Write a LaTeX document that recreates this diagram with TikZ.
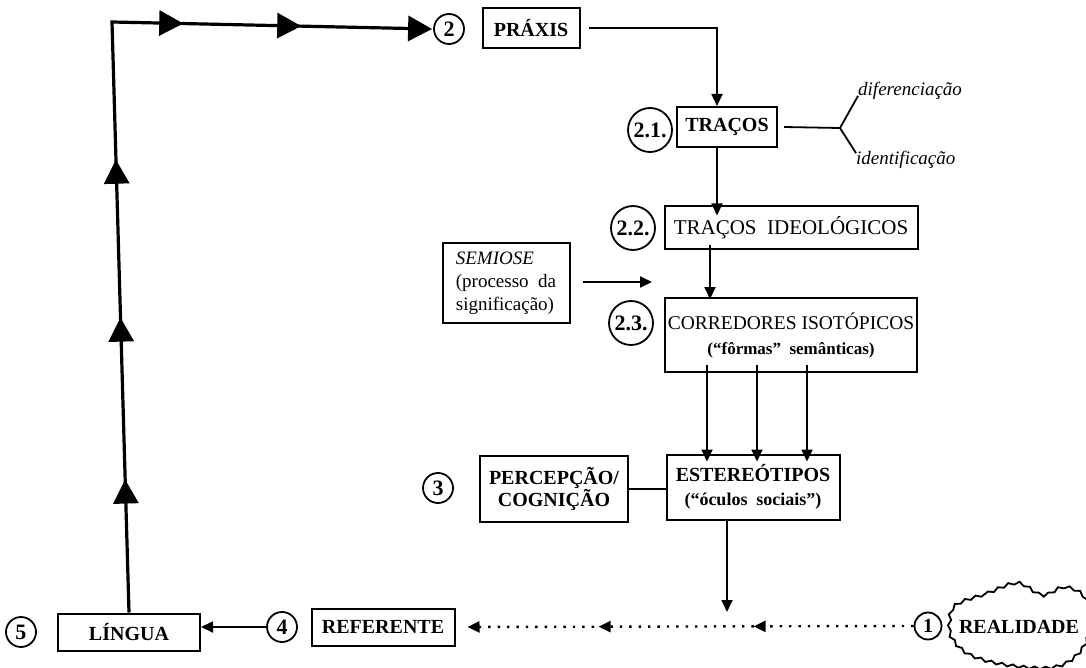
\documentclass[tikz,border=0pt]{standalone}
\usepackage{fontspec}
\setmainfont{Liberation Serif}
\usetikzlibrary{arrows.meta,decorations.markings,decorations.pathmorphing,calc}
\tikzset{bigtip/.tip={Triangle[length=24pt,width=25pt]},
  smalltip/.tip={Triangle[length=12pt,width=11pt]}}
\begin{document}
\begin{tikzpicture}[x=1pt,y=-1pt,
  box/.style={draw,line width=2pt,inner sep=0pt,align=center,font=\fontsize{20}{24}\selectfont\bfseries},
  num/.style={draw,circle,line width=1.8pt,inner sep=0pt,minimum size=30pt,font=\fontsize{22}{24}\selectfont\bfseries},
  numw/.style={num,minimum size=44pt,font=\fontsize{22}{24}\selectfont\bfseries},
  conn/.style={line width=1.8pt},
  arr/.style={conn,-smalltip},
  lbl/.style={font=\fontsize{19}{22}\selectfont\itshape,inner sep=0pt}
]
\useasboundingbox (0,0) rectangle (1086,668);

% boxes
\node[box,minimum width=97pt,minimum height=40pt] (praxis) at (531,28) {PRÁXIS};
\node[box,minimum width=100pt,minimum height=40pt] (tracos) at (727,127) {TRAÇOS};
\node[box,minimum width=253pt,minimum height=43pt,font=\fontsize{21}{24}\selectfont] (ideo) at (791,228) {TRAÇOS\ \ IDEOLÓGICOS};
\node[box,minimum width=127pt,minimum height=80pt,align=left,font=\fontsize{19}{23}\selectfont] (semiose) at (506,283)
  {\textit{SEMIOSE}\\(processo\ \ da\\significação)};
\node[box,minimum width=252pt,minimum height=74pt,font=\fontsize{19.5}{24}\selectfont] (corr) at (791,335)
  {CORREDORES ISOTÓPICOS\\[1pt]{\fontsize{17}{20}\selectfont\bfseries (“fôrmas”\ \ semânticas)}};
\node[box,minimum width=173pt,minimum height=65pt] (ester) at (753,487)
  {ESTEREÓTIPOS\\{\fontsize{18}{21}\selectfont (“óculos\ \ sociais”)}};
\node[box,minimum width=148pt,minimum height=66pt,font=\fontsize{20}{22}\selectfont\bfseries] (perc) at (554,489)
  {PERCEPÇÃO/\\COGNIÇÃO};
\node[box,minimum width=143pt,minimum height=37pt] (ref) at (383,627) {REFERENTE};
\node[box,minimum width=142pt,minimum height=37pt] (lingua) at (129,632) {LÍNGUA};
\node[font=\fontsize{20}{24}\selectfont\bfseries,inner sep=0pt] (real) at (1019,627) {REALIDADE};

% numbered circles
\node[num] (c2) at (449,29) {2};
\node[numw] (c21) at (650,130) {2.1.};
\node[numw] (c22) at (633,228) {2.2.};
\node[numw] (c23) at (631,323) {2.3.};
\node[num] (c3) at (438,488) {3};
\node[num] (c4) at (282,627) {4};
\node[num] (c5) at (21,632) {5};
\node[num,minimum size=27pt,font=\fontsize{20}{22}\selectfont\bfseries] (c1) at (928,626) {1};

% cloud around REALIDADE
\draw[line width=1.8pt,decorate,decoration={snake,amplitude=1.4pt,segment length=11pt}]
  plot[smooth cycle,tension=0.6] coordinates {(953,606) (985,594) (1015,584) (1040,596) (1062,588) (1082,598)
   (1088,625) (1078,652) (1052,668) (1005,666) (968,656) (950,640) (947,624)};

% italic labels
\node[lbl,anchor=west] (dif) at (858,91) {diferenciação};
\node[lbl,anchor=west] (idt) at (856,160) {identificação};

% big left path
\coordinate (corner) at (112,22);
\draw[line width=3.2pt,-bigtip,postaction={decorate},
  decoration={markings,
    mark=at position 133pt with {\arrow{bigtip}},
    mark=at position 295pt with {\arrow{bigtip}},
    mark=at position 453pt with {\arrow{bigtip}},
    mark=at position 662pt with {\arrow{bigtip}},
    mark=at position 780pt with {\arrow{bigtip}}}]
  (lingua.north) -- (corner) -- ([xshift=-1pt]c2.west);

% connectors
\draw[arr] ([xshift=8pt]praxis.east) -| ([xshift=-10pt]tracos.north);
\draw[arr] ([xshift=-10pt]tracos.south) -- ([xshift=-74pt,yshift=-10pt]ideo.north);
\draw[arr] ([xshift=-81pt,yshift=5pt]ideo.south) -- ([xshift=-81pt,yshift=-2pt]corr.north);
\coordinate (semend) at (652,282);
\draw[arr] ([xshift=12pt]semiose.east |- semend) -- (semend);
\draw[arr] ([xshift=-84pt,yshift=8pt]corr.south) -- ([xshift=-46pt,yshift=-8pt]ester.north);
\draw[arr] ([xshift=-34pt,yshift=8pt]corr.south) -- ([xshift=4pt,yshift=-8pt]ester.north);
\draw[arr] ([xshift=16pt,yshift=8pt]corr.south) -- ([xshift=54pt,yshift=-8pt]ester.north);
\draw[conn] (perc.east) -- (perc.east -| ester.west);
\coordinate (estend) at (727,612);
\draw[arr] (ester.south -| estend) -- (estend);
\draw[arr] (c4.west) -- (c4.west -| lingua.east);

% traços branches
\coordinate (fork) at (840,128);
\draw[conn] ([xshift=6pt]tracos.east) -- (fork);
\draw[conn] ([yshift=4pt]dif.south west) -- (fork) -- ([yshift=-2pt]idt.north west);

% dotted line from realidade
\draw[line width=2.4pt,dash pattern=on 2.4pt off 7pt,-smalltip,shorten >=12pt,
  postaction={decorate},
  decoration={markings,
    mark=at position 160pt with {\arrow{smalltip}},
    mark=at position 315pt with {\arrow{smalltip}}}]
  (c1.west) -- (ref.east);
\end{tikzpicture}
\end{document}
